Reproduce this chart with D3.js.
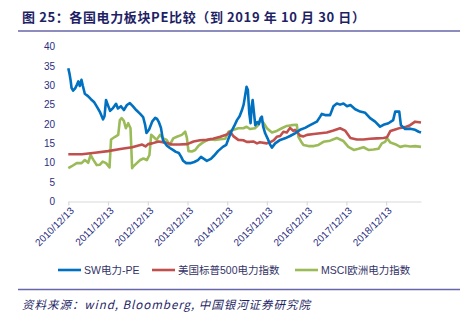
<!DOCTYPE html>
<html><head><meta charset="utf-8">
<script src="https://cdn.jsdelivr.net/npm/d3@7"></script>
<style>
html,body{margin:0;padding:0;background:#fff;}
svg{display:block;}
</style></head>
<body>
<svg id="chart" width="469" height="326"></svg>
<script>
// ---- data ----
const titleText = "图 25：各国电力板块PE比较（到 2019 年 10 月 30 日）";
const sourceText = "资料来源：wind, Bloomberg, 中国银河证券研究院";
const seriesNames = ["SW电力-PE", "美国标普500电力指数", "MSCI欧洲电力指数"];
const seriesColors = ["#0070C0", "#C0504D", "#9BBB59"];
const xTickLabels = ["2010/12/13","2011/12/13","2012/12/13","2013/12/13","2014/12/13","2015/12/13","2016/12/13","2017/12/13","2018/12/13"];
const yTicks = [0,5,10,15,20,25,30,35,40];
const dateRange = ["2010-12-13","2019-10-30"];

const swPE = [
["2010-12-13",34.4],["2010-12-24",33.0],["2011-01-02",31.5],["2011-01-12",29.3],["2011-01-26",28.6],
["2011-02-14",29.2],["2011-03-02",30.1],["2011-03-15",31.0],["2011-03-29",29.8],["2011-04-13",31.4],
["2011-04-26",29.8],["2011-05-14",27.8],["2011-06-12",27.2],["2011-07-09",26.4],["2011-08-06",25.7],
["2011-09-03",24.4],["2011-09-30",23.1],["2011-10-28",21.2],["2011-11-11",22.0],["2011-11-25",26.2],
["2011-12-08",25.2],["2012-01-01",23.4],["2012-01-28",24.1],["2012-02-25",25.2],["2012-03-13",24.0],
["2012-04-10",24.6],["2012-05-07",23.6],["2012-06-04",24.9],["2012-07-01",25.4],["2012-07-28",24.6],
["2012-08-28",23.6],["2012-10-04",22.6],["2012-10-31",21.8],["2012-11-19",19.7],["2012-12-01",17.7],
["2012-12-25",18.6],["2013-01-22",20.6],["2013-02-19",21.6],["2013-03-08",21.3],["2013-03-26",20.4],
["2013-04-13",19.0],["2013-05-01",15.9],["2013-05-19",15.1],["2013-06-07",14.4],["2013-07-04",13.8],
["2013-08-01",13.3],["2013-08-28",12.8],["2013-09-25",12.5],["2013-10-16",11.5],["2013-11-03",10.5],
["2013-12-01",9.9],["2014-01-07",9.9],["2014-02-13",10.2],["2014-03-19",10.7],["2014-04-16",11.5],
["2014-05-13",11.0],["2014-06-09",10.5],["2014-07-16",11.0],["2014-08-13",11.8],["2014-09-19",13.0],
["2014-11-03",14.1],["2014-12-04",14.6],["2014-12-22",16.0],["2015-01-19",18.0],["2015-02-16",19.5],
["2015-03-13",21.0],["2015-04-06",22.0],["2015-04-28",23.6],["2015-05-13",25.0],["2015-05-25",27.0],
["2015-06-09",29.6],["2015-06-21",28.8],["2015-07-04",22.8],["2015-07-16",20.2],["2015-07-26",24.5],
["2015-08-04",26.2],["2015-08-16",23.0],["2015-08-28",19.7],["2015-09-16",20.5],["2015-10-01",20.0],
["2015-10-16",21.5],["2015-10-28",21.9],["2015-11-09",19.3],["2015-11-27",17.6],["2015-12-19",16.3],
["2016-01-13",14.6],["2016-01-28",13.9],["2016-02-27",15.0],["2016-04-13",15.9],["2016-05-28",16.3],
["2016-07-13",16.9],["2016-08-28",17.6],["2016-10-13",18.5],["2016-11-28",19.0],["2017-01-13",19.7],
["2017-03-16",20.6],["2017-04-16",21.9],["2017-05-01",22.6],["2017-05-31",22.3],["2017-07-16",22.3],
["2017-08-16",24.6],["2017-09-16",25.3],["2017-10-16",25.0],["2017-11-16",25.3],["2017-12-19",24.6],
["2018-01-19",24.9],["2018-03-04",23.8],["2018-04-19",23.2],["2018-06-04",22.9],["2018-07-19",21.5],
["2018-09-03",20.6],["2018-10-19",19.3],["2018-11-19",19.8],["2019-01-04",20.2],["2019-02-16",21.0],
["2019-03-07",23.2],["2019-04-13",23.2],["2019-04-28",19.7],["2019-06-06",18.7],["2019-07-22",18.8],
["2019-09-06",18.5],["2019-10-09",18.0],["2019-10-30",17.8]
];

const sp500Util = [
["2010-12-13",12.2],["2011-04-17",12.2],["2011-08-15",12.6],["2011-12-13",13.0],["2012-04-19",13.6],
["2012-07-22",14.0],["2012-10-22",14.7],["2012-11-22",14.2],["2012-12-16",14.8],["2013-01-22",15.0],
["2013-03-22",15.5],["2013-05-22",15.2],["2013-07-22",14.7],["2013-09-25",14.7],["2013-12-10",14.8],
["2014-02-07",15.5],["2014-04-07",15.8],["2014-06-07",15.9],["2014-08-04",16.2],["2014-10-10",16.7],
["2014-12-10",17.3],["2015-01-10",18.0],["2015-02-10",16.8],["2015-03-25",15.9],["2015-05-10",15.8],
["2015-06-10",15.4],["2015-07-10",15.4],["2015-08-10",15.5],["2015-09-13",15.0],["2015-10-10",15.3],
["2015-12-13",15.0],["2016-01-13",15.3],["2016-02-13",15.8],["2016-03-13",16.7],["2016-04-13",16.9],
["2016-05-13",18.0],["2016-06-13",17.8],["2016-07-13",19.0],["2016-08-13",18.2],["2016-08-28",18.5],
["2016-09-28",17.5],["2016-10-13",17.0],["2016-11-13",16.8],["2016-12-16",17.2],["2017-02-16",17.4],
["2017-04-16",17.6],["2017-06-16",17.8],["2017-08-16",18.3],["2017-10-16",18.9],["2017-12-01",18.3],
["2018-01-19",16.4],["2018-03-19",16.0],["2018-05-19",16.0],["2018-07-19",16.2],["2018-09-19",16.3],
["2018-11-19",16.4],["2018-12-22",16.6],["2019-01-22",18.2],["2019-03-07",18.6],["2019-04-22",19.0],
["2019-06-06",19.2],["2019-07-22",19.7],["2019-09-06",20.6],["2019-10-30",20.4]
];

const msciEuUtil = [
["2010-12-13",8.6],["2011-01-14",9.1],["2011-02-28",9.9],["2011-04-14",9.9],["2011-05-14",10.7],
["2011-06-14",10.0],["2011-07-06",12.0],["2011-07-30",10.8],["2011-08-31",9.4],["2011-09-30",9.5],
["2011-10-25",10.3],["2011-11-25",9.9],["2011-12-27",8.8],["2012-01-10",16.0],["2012-02-16",16.7],
["2012-03-16",17.2],["2012-03-31",21.0],["2012-04-16",21.5],["2012-05-07",20.8],["2012-05-25",18.9],
["2012-06-16",20.2],["2012-07-07",18.9],["2012-07-22",8.6],["2012-07-31",9.0],["2012-09-03",9.9],
["2012-10-04",10.7],["2012-11-03",11.1],["2012-12-04",10.7],["2012-12-28",12.0],["2013-01-13",17.2],
["2013-02-03",16.7],["2013-03-04",15.9],["2013-04-04",17.2],["2013-05-04",16.3],["2013-06-04",15.9],
["2013-07-04",14.6],["2013-08-04",16.3],["2013-09-06",16.7],["2013-10-22",17.2],["2013-11-22",18.0],
["2013-12-07",16.5],["2013-12-22",13.0],["2014-01-22",12.9],["2014-02-22",13.3],["2014-03-22",14.3],
["2014-04-22",15.0],["2014-05-22",15.5],["2014-07-07",16.1],["2014-08-22",15.9],["2014-10-10",16.1],
["2014-11-25",16.2],["2014-12-25",18.0],["2015-02-10",18.5],["2015-03-25",18.9],["2015-05-10",18.9],
["2015-06-10",19.3],["2015-07-10",18.7],["2015-08-25",18.9],["2015-09-25",19.7],["2015-10-10",21.0],
["2015-11-10",20.4],["2015-12-13",18.9],["2016-01-28",17.8],["2016-03-13",18.2],["2016-04-28",18.9],
["2016-06-13",19.5],["2016-07-28",19.7],["2016-09-13",19.8],["2016-09-28",16.7],["2016-10-22",15.5],
["2016-11-13",14.6],["2016-12-28",14.3],["2017-02-16",14.3],["2017-03-31",14.6],["2017-05-16",15.4],
["2017-07-16",15.7],["2017-09-16",16.4],["2017-10-16",16.0],["2017-11-16",15.6],["2017-12-31",14.1],
["2018-02-19",13.3],["2018-04-04",13.6],["2018-05-19",14.0],["2018-07-04",13.3],["2018-08-19",13.4],
["2018-10-04",13.6],["2018-11-04",15.0],["2018-12-04",15.4],["2018-12-22",16.3],["2019-01-22",15.2],
["2019-03-07",14.8],["2019-04-22",14.1],["2019-06-06",14.4],["2019-07-22",14.2],["2019-09-06",14.3],
["2019-10-30",14.1]
];

// ---- drawing ----
const parse = d3.timeParse("%Y-%m-%d");
const parseTick = d3.timeParse("%Y/%m/%d");
const svg = d3.select("#chart");
const navy = "#2B2E80";
const fontLat = "'Liberation Sans', Arial, 'Noto Sans CJK SC', sans-serif";

const x = d3.scaleTime().domain(dateRange.map(parse)).range([68.3, 421]);
const y = d3.scaleLinear().domain([0, 40]).range([201.5, 46.5]);

// title
svg.append("text").attr("x", 22).attr("y", 22)
  .attr("font-family", "'Noto Sans CJK SC', sans-serif").attr("font-weight", "bold")
  .attr("font-size", 13).attr("fill", "#1F1F66")
  .attr("textLength", 343).attr("lengthAdjust", "spacing")
  .text(titleText);
svg.append("line").attr("x1", 18).attr("x2", 460).attr("y1", 31).attr("y2", 31)
  .attr("stroke", "#6666AA").attr("stroke-width", 1.6);

// y axis labels
const yAxis = svg.append("g").attr("transform", "translate(57,0)")
  .call(d3.axisLeft(y).tickValues(yTicks).tickSize(0).tickPadding(2));
yAxis.select(".domain").remove();
yAxis.selectAll("text").attr("font-family", fontLat).attr("font-size", 10).attr("fill", navy);

// x axis
const xAxis = svg.append("g").attr("transform", `translate(0,${y(0)})`)
  .call(d3.axisBottom(x).tickValues(xTickLabels.map(parseTick))
    .tickFormat(d3.timeFormat("%Y/%m/%d")).tickSize(4).tickSizeOuter(0));
xAxis.select(".domain").attr("stroke", "#D9D9D9").attr("stroke-width", 1.2);
xAxis.selectAll(".tick line").attr("stroke", "#D9D9D9").attr("stroke-width", 1.2);
xAxis.selectAll("text")
  .attr("font-family", fontLat).attr("font-size", 10).attr("fill", navy)
  .attr("text-anchor", "end").attr("dy", null).attr("y", null)
  .attr("transform", "translate(4,8) rotate(-45)")
  .attr("dominant-baseline", "middle");

// lines
const line = d3.line().x(d => x(parse(d[0]))).y(d => y(d[1]));
const allSeries = [swPE, sp500Util, msciEuUtil];
// draw green first, then red, then blue (blue on top in early part)
[2, 1, 0].forEach(i => {
  svg.append("path").datum(allSeries[i]).attr("d", line)
    .attr("fill", "none").attr("stroke", seriesColors[i])
    .attr("stroke-width", 2.6).attr("stroke-linejoin", "round");
});

// legend
const legendX = [58, 152, 295];
const lg = svg.append("g").attr("transform", "translate(0,270)");
seriesNames.forEach((name, i) => {
  lg.append("line").attr("x1", legendX[i]).attr("x2", legendX[i] + 23)
    .attr("y1", 0).attr("y2", 0).attr("stroke", seriesColors[i]).attr("stroke-width", 2.6);
  lg.append("text").attr("x", legendX[i] + 26).attr("y", 0).attr("dy", "0.35em")
    .attr("font-family", fontLat).attr("font-size", 10.5).attr("fill", "#333366")
    .text(name);
});

svg.append("line").attr("x1", 18).attr("x2", 460).attr("y1", 289.5).attr("y2", 289.5)
  .attr("stroke", "#6666AA").attr("stroke-width", 1.6);

svg.append("text").attr("x", 22).attr("y", 309)
  .attr("font-family", "'Noto Sans CJK SC', sans-serif").attr("font-style", "italic")
  .attr("font-size", 11.5).attr("fill", "#1F1F66")
  .attr("textLength", 288).attr("lengthAdjust", "spacing")
  .text(sourceText);
</script>
</body></html>
